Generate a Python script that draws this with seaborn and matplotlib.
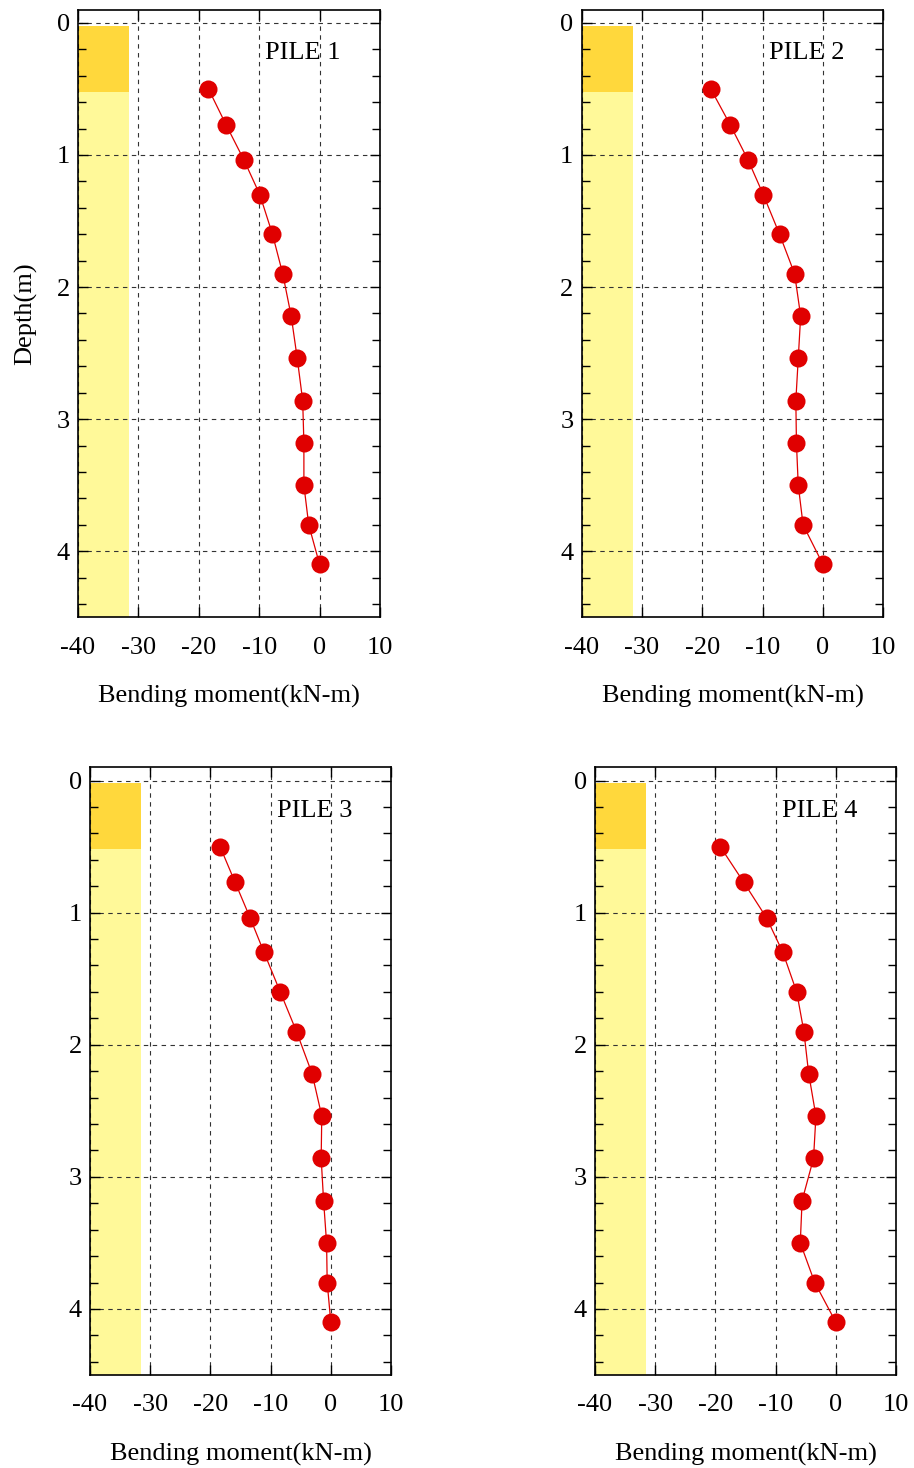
import numpy as np
import pandas as pd
import matplotlib
matplotlib.use("Agg")
import matplotlib.pyplot as plt
from matplotlib.ticker import MultipleLocator
import seaborn as sns

# Gauge depths along the piles (m)
depth = [0.50, 0.77, 1.04, 1.30, 1.60, 1.90, 2.22, 2.54, 2.86, 3.18, 3.50, 3.80, 4.10]

# Bending moment at each gauge (kN-m)
pile1 = [-18.4, -15.5, -12.5, -9.9, -7.8, -6.1, -4.7, -3.7, -2.8, -2.6, -2.6, -1.8, 0.0]
pile2 = [-18.6, -15.4, -12.4, -9.9, -7.2, -4.7, -3.7, -4.1, -4.5, -4.4, -4.1, -3.3, 0.0]
pile3 = [-18.4, -15.9, -13.4, -11.1, -8.4, -5.7, -3.1, -1.5, -1.6, -1.2, -0.7, -0.6, 0.0]
pile4 = [-19.2, -15.3, -11.5, -8.8, -6.5, -5.3, -4.5, -3.3, -3.7, -5.6, -5.9, -3.5, 0.0]

pile_names = ["PILE 1", "PILE 2", "PILE 3", "PILE 4"]
pile_values = [pile1, pile2, pile3, pile4]

# Soil layers shown as coloured strip on the left
layer_top = [0.02, 0.52]
layer_bottom = [0.52, 4.5]
layer_colors = ["#FFD83C", "#FFF999"]
strip_left, strip_right = -40.0, -31.5

x_ticks = [-40, -30, -20, -10, 0, 10]
y_ticks = [0, 1, 2, 3, 4]

sns.set_theme(style="ticks")
plt.rcParams["font.family"] = ["Liberation Serif", "DejaVu Serif"]
plt.rcParams["mathtext.fontset"] = "stix"

fig = plt.figure(figsize=(9.14, 14.68), dpi=100)
W, H = 914.0, 1468.0
# axes boxes in pixels: left, top, right, bottom
boxes = [
    (78.0, 9.7, 380.0, 617.3),
    (581.7, 9.7, 883.3, 617.3),
    (90.0, 767.3, 391.0, 1375.0),
    (595.0, 767.3, 896.0, 1375.0),
]

FS = 19
for i, (name, vals) in enumerate(zip(pile_names, pile_values)):
    l, t, r, b = boxes[i]
    ax = fig.add_axes([l / W, 1 - b / H, (r - l) / W, (b - t) / H])

    for top, bot, col in zip(layer_top, layer_bottom, layer_colors):
        ax.fill_betweenx([top, bot], strip_left, strip_right, color=col,
                         linewidth=0, zorder=0)

    df = pd.DataFrame({"moment": vals, "depth": depth})
    sns.lineplot(data=df, x="moment", y="depth", sort=False, estimator=None,
                 ax=ax, color="#E00000", linewidth=0.9, marker="o",
                 markersize=13, markeredgewidth=0, zorder=3)

    ax.set_xlim(-40, 10)
    ax.set_ylim(4.5, -0.1)
    ax.set_xticks(x_ticks)
    ax.set_xticklabels([str(v) for v in x_ticks])
    ax.set_yticks(y_ticks)
    ax.set_yticklabels([str(v) for v in y_ticks])
    ax.yaxis.set_minor_locator(MultipleLocator(0.2))

    ax.grid(True, which="major", color="#333333", linestyle=(0, (4, 4)),
            linewidth=0.8, zorder=1)
    ax.set_axisbelow(False)
    for sp in ax.spines.values():
        sp.set_color("black")
        sp.set_linewidth(1.2)
        sp.set_zorder(5)

    ax.tick_params(axis="both", which="both", direction="in", top=True,
                   right=True, colors="black", labelsize=FS)
    ax.tick_params(axis="both", which="major", length=7, width=1.0)
    ax.tick_params(axis="y", which="minor", length=6, width=1.0)
    ax.tick_params(axis="x", which="major", pad=14)
    ax.tick_params(axis="y", which="major", pad=6)

    ax.text(-9.0, 0.23, name, fontsize=FS, ha="left", va="center",
            color="black", zorder=4)

    ax.set_xlabel("Bending moment(kN-m)", fontsize=FS, labelpad=19,
                  color="black")
    if i == 0:
        ax.set_ylabel("Depth(m)", fontsize=FS, labelpad=14, color="black")
    else:
        ax.set_ylabel("")

fig.savefig("out.png", dpi=100, facecolor="white")
